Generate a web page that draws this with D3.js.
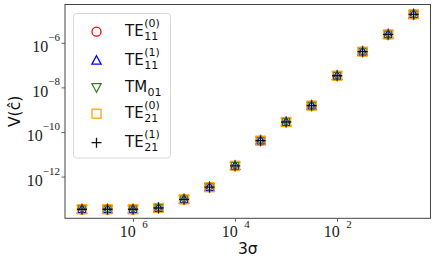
<!DOCTYPE html>
<html>
<head>
<meta charset="utf-8">
<script src="https://cdn.jsdelivr.net/npm/d3@7"></script>
<style>
  html, body { margin: 0; padding: 0; background: #fff; }
  svg { display: block; }
</style>
</head>
<body>
<svg id="chart" width="436" height="264"></svg>
<script>
// ---- data ----
const sigma = [1e-7, 3.16e-7, 1e-6, 3.16e-6, 1e-5, 3.16e-5, 1e-4, 3.16e-4, 1e-3, 3.16e-3, 1e-2, 3.16e-2, 1e-1, 3.16e-1];
const vTE11_0 = [3.6e-14, 3.6e-14, 3.6e-14, 4.1e-14, 1.0e-13, 3.5e-13, 3.2e-12, 4.3e-11, 2.95e-10, 1.6e-9, 3.5e-8, 4.2e-7, 2.5e-6, 2.0e-5];
const vTE11_1 = [3.6e-14, 3.6e-14, 3.6e-14, 4.1e-14, 1.0e-13, 3.5e-13, 3.2e-12, 4.3e-11, 2.95e-10, 1.6e-9, 3.5e-8, 4.2e-7, 2.5e-6, 2.0e-5];
const vTM01   = [3.6e-14, 3.6e-14, 3.6e-14, 4.1e-14, 1.0e-13, 3.5e-13, 3.2e-12, 4.3e-11, 2.95e-10, 1.6e-9, 3.5e-8, 4.2e-7, 2.5e-6, 2.0e-5];
const vTE21_0 = [3.6e-14, 3.6e-14, 3.6e-14, 4.1e-14, 1.0e-13, 3.5e-13, 3.2e-12, 4.3e-11, 2.95e-10, 1.6e-9, 3.5e-8, 4.2e-7, 2.5e-6, 2.0e-5];
const vTE21_1 = [3.6e-14, 3.6e-14, 3.6e-14, 4.1e-14, 1.0e-13, 3.5e-13, 3.2e-12, 4.3e-11, 2.95e-10, 1.6e-9, 3.5e-8, 4.2e-7, 2.5e-6, 2.0e-5];
const seriesNames = [
  {base: "TE", sup: "(0)", sub: "11"},
  {base: "TE", sup: "(1)", sub: "11"},
  {base: "TM", sup: null,  sub: "01"},
  {base: "TE", sup: "(0)", sub: "21"},
  {base: "TE", sup: "(1)", sub: "21"}
];
const seriesValues = [vTE11_0, vTE11_1, vTM01, vTE21_0, vTE21_1];
const xTicks = [1e-6, 1e-4, 1e-2];
const xTickExp = ["6", "4", "2"];      // minus sign not rendered in original
const yTicks = [1e-6, 1e-8, 1e-10, 1e-12];
const yTickExp = ["\u22126", "\u22128", "\u221210", "\u221212"];

// ---- styles ----
const markers = ["circle", "up", "down", "square", "plus"];
const colors = ["#ff0000", "#0000ff", "#3b7d23", "#ffa500", "#111111"];

// ---- layout ----
const L = 65, R = 430.5, T = 4.5, B = 218.3;
const svg = d3.select("#chart");
const x = d3.scaleLog().domain([Math.pow(10, -7.333), Math.pow(10, -0.17)]).range([L, R]);
const y = d3.scaleLog().domain([Math.pow(10, -13.85), Math.pow(10, -4.26)]).range([B, T]);

const serif = "'Liberation Serif', 'Times New Roman', serif";
const sans = "'DejaVu Sans', sans-serif";

// frame
svg.append("rect").attr("x", L).attr("y", T).attr("width", R - L).attr("height", B - T)
  .attr("fill", "none").attr("stroke", "#444").attr("stroke-width", 1);

// x ticks
xTicks.forEach((t, i) => {
  const px = Math.round(x(t)) + 0.5;
  svg.append("line").attr("x1", px).attr("x2", px).attr("y1", B).attr("y2", B + 3.5)
    .attr("stroke", "#444").attr("stroke-width", 0.8);
  const tx = svg.append("text").attr("x", px - 13.7).attr("y", 237.3)
    .attr("font-family", serif).attr("font-size", 16).attr("fill", "#222");
  tx.append("tspan").text("10");
  tx.append("tspan").attr("dx", 6.5).attr("dy", -9.5).attr("font-size", 11).text(xTickExp[i]);
});

// y ticks
yTicks.forEach((t, i) => {
  const py = y(t);
  svg.append("line").attr("x1", L - 3.5).attr("x2", L).attr("y1", py).attr("y2", py)
    .attr("stroke", "#444").attr("stroke-width", 0.8);
  const tx = svg.append("text").attr("x", 60).attr("y", py + 9)
    .attr("text-anchor", "end")
    .attr("font-family", serif).attr("font-size", 16).attr("fill", "#222");
  tx.append("tspan").text("10");
  tx.append("tspan").attr("dy", -11.5).attr("font-size", 11).text(yTickExp[i]);
});

// axis labels
svg.append("text").attr("x", (L + R) / 2).attr("y", 254).attr("text-anchor", "middle")
  .attr("font-family", sans).attr("font-size", 15.5).attr("fill", "#111").text("3σ");
svg.append("text").attr("transform", "translate(19.5," + ((T + B) / 2) + ") rotate(-90)")
  .attr("text-anchor", "middle")
  .attr("font-family", sans).attr("font-size", 15.5).attr("fill", "#111").text("V(ĉ)");

// marker drawing
function drawMarker(g, type, color, cx, cy) {
  const sw = 1.3;
  if (type === "circle") {
    g.append("circle").attr("cx", cx).attr("cy", cy).attr("r", 4.5)
      .attr("fill", "none").attr("stroke", color).attr("stroke-width", sw);
  } else if (type === "up") {
    g.append("path").attr("d", `M${cx},${cy - 5} L${cx + 4.6},${cy + 3.5} L${cx - 4.6},${cy + 3.5} Z`)
      .attr("fill", "none").attr("stroke", color).attr("stroke-width", sw);
  } else if (type === "down") {
    g.append("path").attr("d", `M${cx},${cy + 5} L${cx + 4.6},${cy - 3.5} L${cx - 4.6},${cy - 3.5} Z`)
      .attr("fill", "none").attr("stroke", color).attr("stroke-width", sw);
  } else if (type === "square") {
    g.append("rect").attr("x", cx - 4.5).attr("y", cy - 4.5).attr("width", 9).attr("height", 9)
      .attr("fill", "none").attr("stroke", color).attr("stroke-width", sw);
  } else if (type === "plus") {
    g.append("path").attr("d", `M${cx - 5},${cy} L${cx + 5},${cy} M${cx},${cy - 5} L${cx},${cy + 5}`)
      .attr("fill", "none").attr("stroke", color).attr("stroke-width", sw);
  }
}

// data points
seriesValues.forEach((vals, si) => {
  const g = svg.append("g").attr("class", "series-" + si);
  vals.forEach((v, i) => drawMarker(g, markers[si], colors[si], x(sigma[i]), y(v)));
});

// legend
const lg = svg.append("g").attr("class", "legend");
lg.append("rect").attr("x", 73.5).attr("y", 13.5).attr("width", 97).attr("height", 144.5)
  .attr("rx", 3).attr("fill", "#fff").attr("fill-opacity", 0.8)
  .attr("stroke", "#d8d8d8").attr("stroke-width", 1);
let rowY = 31.7;
seriesNames.forEach((s, i) => {
  if (i > 0) rowY += (s.sup && seriesNames[i - 1].sup) ? 29 : 26.5;
  drawMarker(lg, markers[i], colors[i], 96.5, rowY);
  const baseY = rowY + (s.sup ? 4.2 : 5);
  const t = lg.append("text").attr("x", 125).attr("y", baseY)
    .attr("font-family", sans).attr("font-size", 15).attr("fill", "#111").text(s.base);
  const w = t.node().getComputedTextLength();
  lg.append("text").attr("x", 125 + w + 0.5).attr("y", baseY + 4)
    .attr("font-family", sans).attr("font-size", 11).attr("fill", "#111").text(s.sub);
  if (s.sup) {
    lg.append("text").attr("x", 125 + w + 0.5).attr("y", baseY - 8.5)
      .attr("font-family", sans).attr("font-size", 11).attr("fill", "#111").text(s.sup);
  }
});
</script>
</body>
</html>
